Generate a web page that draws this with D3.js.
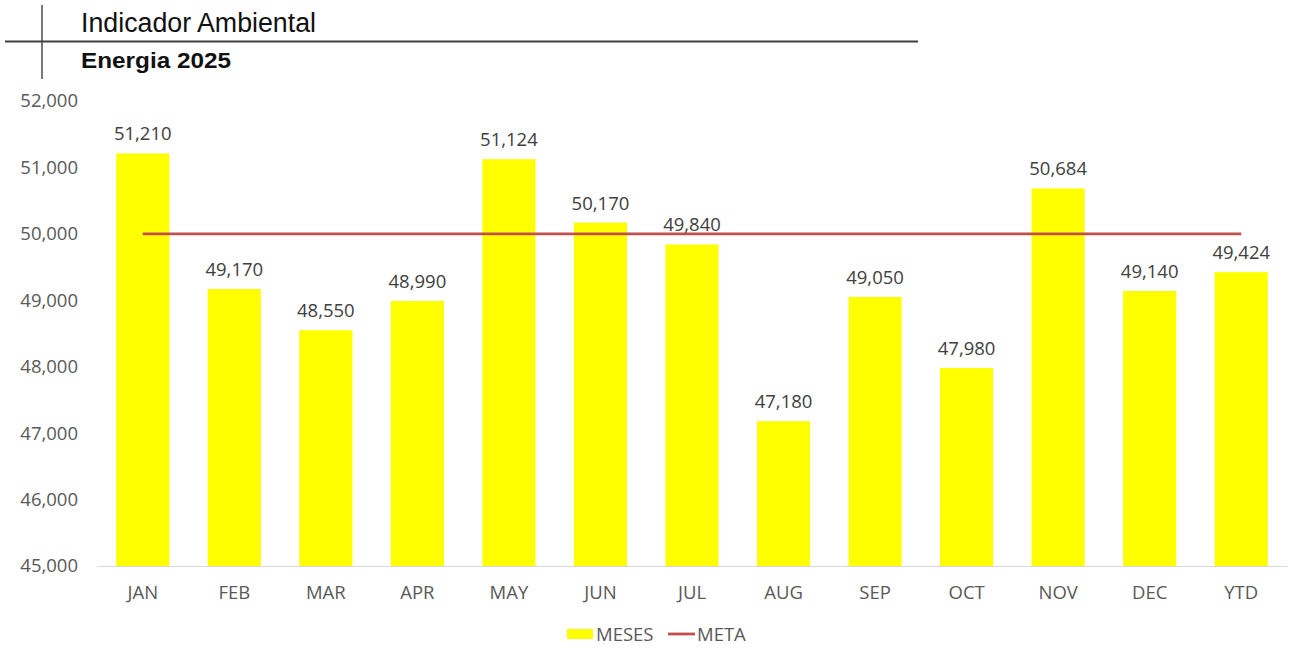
<!DOCTYPE html>
<html>
<head>
<meta charset="utf-8">
<script src="https://cdn.jsdelivr.net/npm/d3@7"></script>
<style>
  body { margin: 0; background: #fff; }
  svg { display: block; }
</style>
</head>
<body>
<div id="chart"></div>
<script>
// Monthly energy values + target line
const months = ["JAN", "FEB", "MAR", "APR", "MAY", "JUN", "JUL", "AUG", "SEP", "OCT", "NOV", "DEC", "YTD"];
const meses = [51210, 49170, 48550, 48990, 51124, 50170, 49840, 47180, 49050, 47980, 50684, 49140, 49424];
const meta = [50000, 50000, 50000, 50000, 50000, 50000, 50000, 50000, 50000, 50000, 50000, 50000, 50000];
const yTicks = [45000, 46000, 47000, 48000, 49000, 50000, 51000, 52000];

const W = 1290, H = 649;
const font = "'Open Sans', 'Noto Sans', sans-serif";
const labelColor = "#595959";
const fs = "18.5px";

const svg = d3.select("#chart").append("svg")
  .attr("width", W)
  .attr("height", H);

// Header
svg.append("line")
  .attr("x1", 42).attr("x2", 42).attr("y1", 5).attr("y2", 79)
  .attr("stroke", "#222").attr("stroke-width", 1.2);
svg.append("line")
  .attr("x1", 5).attr("x2", 918).attr("y1", 41.5).attr("y2", 41.5)
  .attr("stroke", "#404040").attr("stroke-width", 2);
svg.append("text")
  .attr("x", 81).attr("y", 32)
  .attr("textLength", 235).attr("lengthAdjust", "spacingAndGlyphs")
  .style("font-family", "'Liberation Sans Narrow', 'Liberation Sans', Arial, sans-serif")
  .style("font-size", "27px")
  .attr("fill", "#111")
  .text("Indicador Ambiental");
svg.append("text")
  .attr("x", 81).attr("y", 68)
  .attr("textLength", 150).attr("lengthAdjust", "spacingAndGlyphs")
  .style("font-family", "'Liberation Sans Narrow', 'Liberation Sans', Arial, sans-serif")
  .style("font-size", "22px")
  .style("font-weight", "bold")
  .attr("fill", "#111")
  .text("Energia 2025");

// Scales
const x = d3.scaleBand()
  .domain(months)
  .range([97, 1287])
  .paddingInner(0.42)
  .paddingOuter(0.21);

const y = d3.scaleLinear()
  .domain([45000, 52000])
  .range([566, 101]);

// Y axis (labels only)
const yAxis = svg.append("g")
  .attr("transform", "translate(81,0)")
  .call(d3.axisLeft(y).tickValues(yTicks).tickFormat(d3.format(",")).tickSize(0));
yAxis.select(".domain").remove();
yAxis.selectAll("text")
  .style("font-family", font)
  .style("font-size", fs)
  .attr("fill", labelColor);

// Bars
svg.append("g").selectAll("rect")
  .data(meses)
  .join("rect")
  .attr("x", (d, i) => x(months[i]))
  .attr("y", d => y(d))
  .attr("width", x.bandwidth())
  .attr("height", d => y(45000) - y(d))
  .attr("fill", "#ffff00");

// X axis baseline + labels
const xAxis = svg.append("g")
  .attr("transform", `translate(0,${y(45000)})`)
  .call(d3.axisBottom(x).tickSize(0).tickPadding(20));
xAxis.select(".domain").attr("stroke", "#d9d9d9").attr("stroke-width", 1.2);
xAxis.selectAll("text")
  .style("font-family", font)
  .style("font-size", fs)
  .attr("fill", labelColor);

// Target line
svg.append("path")
  .datum(meta)
  .attr("fill", "none")
  .attr("stroke", "#c0504d")
  .attr("stroke-width", 2.8)
  .attr("d", d3.line()
    .x((d, i) => x(months[i]) + x.bandwidth() / 2)
    .y(d => y(d)));

// Data labels
svg.append("g").selectAll("text")
  .data(meses)
  .join("text")
  .attr("x", (d, i) => x(months[i]) + x.bandwidth() / 2)
  .attr("y", d => y(d) - 13)
  .attr("text-anchor", "middle")
  .style("font-family", font)
  .style("font-size", fs)
  .attr("fill", "#404040")
  .text(d => d3.format(",")(d));

// Legend
const lg = svg.append("g").attr("transform", "translate(567,634)");
lg.append("rect")
  .attr("x", 0).attr("y", -5).attr("width", 26).attr("height", 10)
  .attr("fill", "#ffff00");
lg.append("text")
  .attr("x", 29).attr("y", 7)
  .style("font-family", font).style("font-size", fs)
  .attr("fill", labelColor)
  .text("MESES");
lg.append("line")
  .attr("x1", 101).attr("x2", 128).attr("y1", 0).attr("y2", 0)
  .attr("stroke", "#c0504d").attr("stroke-width", 2.8);
lg.append("text")
  .attr("x", 130).attr("y", 7)
  .style("font-family", font).style("font-size", fs)
  .attr("fill", labelColor)
  .text("META");
</script>
</body>
</html>
